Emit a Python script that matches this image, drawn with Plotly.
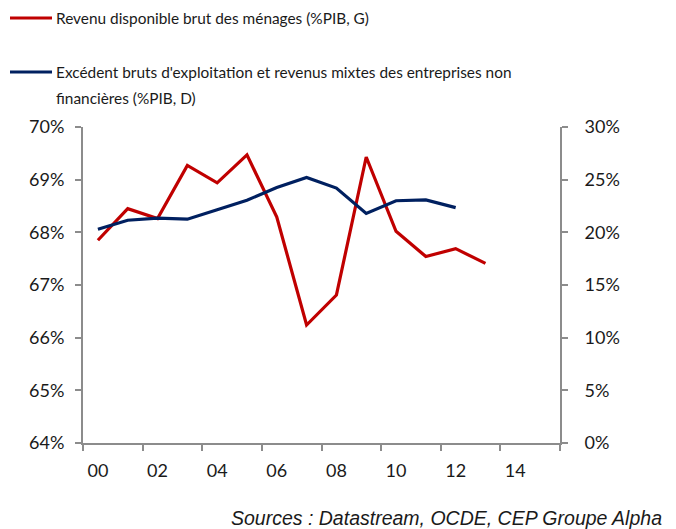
import plotly.graph_objects as go

years = list(range(2000, 2014))
revenu_menages = [67.85, 68.45, 68.26, 69.27, 68.94, 69.47, 68.29, 66.24, 66.81, 69.43, 68.02, 67.54, 67.69, 67.41]
years_ebe = list(range(2000, 2013))
ebe_snf = [20.3, 21.15, 21.35, 21.25, 22.15, 23.05, 24.25, 25.2, 24.2, 21.8, 23.0, 23.08, 22.35]

x_tick_years = [2000, 2002, 2004, 2006, 2008, 2010, 2012, 2014]
x_tick_labels = ["00", "02", "04", "06", "08", "10", "12", "14"]
left_ticks = [64, 65, 66, 67, 68, 69, 70]
right_ticks = [0, 5, 10, 15, 20, 25, 30]

name_red = "Revenu disponible brut des ménages (%PIB, G)"
name_blue_1 = "Excédent bruts d'exploitation et revenus mixtes des entreprises non"
name_blue_2 = "financières (%PIB, D)"
source = "Sources : Datastream, OCDE, CEP Groupe Alpha"

RED = "#C00000"
BLUE = "#002060"
AX = "#8C8C8C"
FONT = "Lato, Open Sans, sans-serif"

# the page has an 8px body margin; work in page pixels and shift
OFF = 8
W, H = 676 - OFF, 529 - OFF
L, R, T, B = 83 - OFF, 560 - OFF, 127 - OFF, 443 - OFF

fig = go.Figure()
fig.add_trace(go.Scatter(x=years, y=revenu_menages, mode="lines",
                         line=dict(color=RED, width=3.2), xaxis="x", yaxis="y",
                         showlegend=False))
fig.add_trace(go.Scatter(x=years_ebe, y=ebe_snf, mode="lines",
                         line=dict(color=BLUE, width=3.2), xaxis="x", yaxis="y2",
                         showlegend=False))
fig.add_trace(go.Scatter(x=[x_tick_years[0]], y=[left_ticks[0]], mode="markers",
                         marker=dict(opacity=0), xaxis="x2", yaxis="y",
                         showlegend=False, hoverinfo="skip"))

xr = [years[0] - 0.5, x_tick_years[-1] + 1.5]
boundaries = [v - 0.5 for v in x_tick_years] + [x_tick_years[-1] + 1.5]

fig.update_layout(
    width=W, height=H,
    margin=dict(l=L, r=W - R, t=T, b=H - B, autoexpand=False),
    plot_bgcolor="white", paper_bgcolor="white",
    font=dict(family=FONT, size=18, color="#1a1a1a"),
    xaxis=dict(range=xr, tickvals=boundaries, ticktext=[""] * len(boundaries),
               ticks="outside", ticklen=6, tickwidth=2, tickcolor=AX,
               showline=True, linecolor=AX, linewidth=2, showgrid=False,
               zeroline=False, fixedrange=True),
    xaxis2=dict(range=xr, overlaying="x", side="bottom", tickvals=x_tick_years,
                ticktext=x_tick_labels, ticks="", showline=False, showgrid=False,
                zeroline=False, ticklabelstandoff=15, tickfont=dict(size=18)),
    yaxis=dict(range=[64, 70], tickvals=left_ticks,
               ticktext=[f"{v}%" for v in left_ticks],
               ticks="outside", ticklen=6, tickwidth=2, tickcolor=AX,
               showline=True, linecolor=AX, linewidth=2, showgrid=False,
               zeroline=False, ticklabelstandoff=7),
    yaxis2=dict(range=[0, 30], tickvals=right_ticks,
                ticktext=[f"{v}%" for v in right_ticks],
                overlaying="y", side="right",
                ticks="outside", ticklen=6, tickwidth=2, tickcolor=AX,
                showline=True, linecolor=AX, linewidth=2, showgrid=False,
                zeroline=False, ticklabelstandoff=13),
)

def px(x):
    return (x - OFF - L) / (R - L)

def py(y):
    return (B - (y - OFF)) / (B - T)

fig.add_shape(type="line", xref="paper", yref="paper",
              x0=px(10), x1=px(52), y0=py(18), y1=py(18),
              line=dict(color=RED, width=3))
fig.add_shape(type="line", xref="paper", yref="paper",
              x0=px(10), x1=px(52), y0=py(72), y1=py(72),
              line=dict(color=BLUE, width=3))
for txt, yy in [(name_red, 18), (name_blue_1, 72), (name_blue_2, 98)]:
    fig.add_annotation(xref="paper", yref="paper", x=px(54), y=py(yy),
                       xanchor="left", yanchor="middle", showarrow=False,
                       text=txt, font=dict(size=15.4), align="left")
fig.add_annotation(xref="paper", yref="paper", x=px(664), y=py(518),
                   xanchor="right", yanchor="middle", showarrow=False,
                   text="<i>" + source + "</i>",
                   font=dict(family="Liberation Sans, Arial", size=19.5, color="#1a1a1a"))

fig.write_html("out.html")
